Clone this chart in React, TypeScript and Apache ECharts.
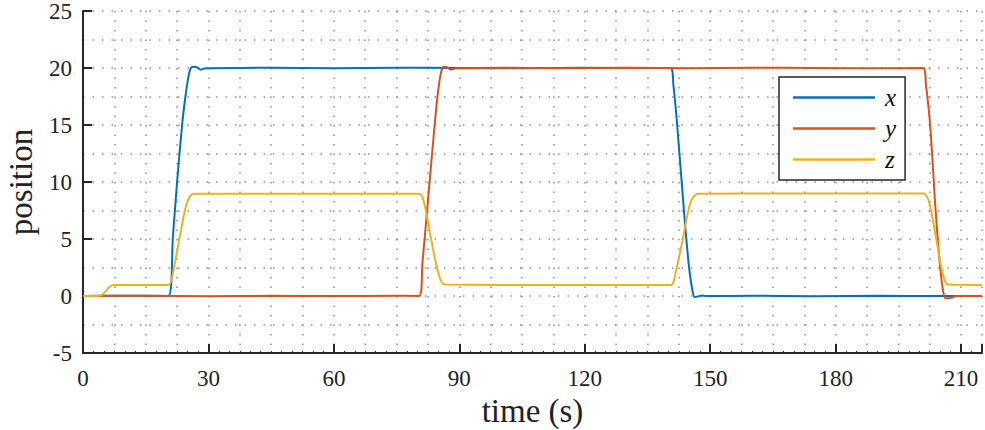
import React, { useEffect, useRef } from "react";
import * as echarts from "echarts";

const xTicks = [0, 30, 60, 90, 120, 150, 180, 210];
const yTicks = [-5, 0, 5, 10, 15, 20, 25];

const xTime = [0, 10, 20.4, 21.5, 22.5, 23.7, 24.5, 25.2, 25.8, 26.5, 27.3, 28.2, 29, 30, 45, 60, 75, 90, 105, 120, 135, 140.5, 141.2, 142.1, 143.7, 144.8, 145.6, 146.3, 147, 148, 149, 160, 175, 190, 205, 215];
const xPos = [0, 0.02, 0, 5.2, 10, 15, 17.5, 19.2, 20.0, 20.1, 20.05, 19.85, 19.95, 19.98, 20.02, 19.98, 20.02, 20.0, 19.98, 20.02, 20.0, 20.0, 18.5, 15, 7.55, 3, 0.8, -0.1, -0.05, 0.05, 0, 0.02, -0.02, 0.02, 0, 0.01];

const yTime = [0, 15, 30, 45, 60, 75, 80.4, 81.2, 82.3, 84.1, 85.0, 86.0, 86.8, 88, 89, 100, 115, 130, 145, 160, 175, 190, 200.9, 201.6, 202.6, 203.9, 205.0, 206.1, 207, 208, 209, 215];
const yPos = [0, 0.02, -0.03, 0.02, 0, 0.02, 0, 3, 7.55, 15, 18.2, 20.05, 20.1, 19.85, 19.95, 20.02, 19.98, 20.02, 19.98, 20.02, 20.0, 19.98, 20.0, 18.5, 15, 7.55, 2.5, -0.15, -0.2, -0.1, 0, 0];

const zTime = [0, 4.1, 5.5, 6.5, 7.6, 20.4, 21.5, 23.0, 24.4, 25.5, 26.8, 50, 80.4, 81.5, 83.3, 85.0, 86.5, 110, 140.5, 141.8, 143.4, 145.3, 147.1, 170, 200.9, 202.3, 204.1, 205.6, 206.9, 215];
const zPos = [0, 0.02, 0.45, 0.85, 0.97, 0.97, 2.0, 4.9, 7.55, 8.7, 8.96, 8.98, 8.98, 8.3, 4.9, 2.0, 1.0, 0.97, 0.97, 2.2, 4.9, 8.2, 8.98, 9.0, 9.0, 8.3, 4.9, 2.0, 1.0, 0.97];

const zip = (t: number[], v: number[]) => t.map((ti, i) => [ti, v[i]]);

const FONT = "Liberation Serif";
const AXIS_COLOR = "#262626";
const GRID_STYLE = { color: "#8c8c8c", width: 1.5, type: [1.5, 8] as number[] };

export default function App() {
  const ref = useRef<HTMLDivElement>(null);
  useEffect(() => {
    if (!ref.current) return;
    const chart = echarts.init(ref.current, undefined, { renderer: "svg" });
    chart.setOption({
      animation: false,
      backgroundColor: "#ffffff",
      textStyle: { fontFamily: FONT },
      grid: { left: 83, right: 3, top: 11, bottom: 77, containLabel: false, outerBoundsMode: "none" },
      legend: {
        orient: "vertical",
        left: 779,
        top: 77,
        padding: [8, 9, 8, 14],
        itemWidth: 82,
        itemHeight: 2.5,
        itemGap: 6,
        icon: "rect",
        backgroundColor: "#ffffff",
        borderColor: "#262626",
        borderWidth: 1.5,
        borderRadius: 0,
        textStyle: {
          fontFamily: FONT,
          fontStyle: "italic",
          fontSize: 25,
          lineHeight: 24,
          height: 24,
          color: "#111",
          padding: [0, 0, 0, 5],
        },
        data: ["x", "y", "z"],
      },
      xAxis: [
        {
          type: "value",
          min: 0,
          max: 215,
          interval: 30,
          name: "time (s)",
          nameLocation: "middle",
          nameGap: 37,
          nameTextStyle: { fontFamily: FONT, fontSize: 33, color: "#222" },
          axisLine: { show: true, onZero: false, lineStyle: { color: AXIS_COLOR, width: 2 } },
          axisTick: { show: true, inside: true, length: 9, lineStyle: { color: AXIS_COLOR, width: 2 } },
          minorTick: { show: true, splitNumber: 12, length: 2, lineStyle: { color: AXIS_COLOR, width: 1 } },
          axisLabel: {
            fontFamily: FONT,
            fontSize: 23,
            color: "#222",
            margin: 14,
            showMaxLabel: false,
            formatter: (v: number) => (xTicks.includes(v) ? String(v) : ""),
          },
          splitLine: { show: false },
        },
        {
          type: "value",
          min: 0,
          max: 215,
          interval: 7.5,
          position: "bottom",
          axisLine: { show: false },
          axisTick: { show: false },
          axisLabel: { show: false },
          splitLine: { show: true, lineStyle: GRID_STYLE },
        },
      ],
      yAxis: [
        {
          type: "value",
          min: -5,
          max: 25,
          interval: 5,
          name: "position",
          nameLocation: "middle",
          nameGap: 46,
          nameTextStyle: { fontFamily: FONT, fontSize: 33, color: "#222" },
          axisLine: { show: true, onZero: false, lineStyle: { color: AXIS_COLOR, width: 2 } },
          axisTick: { show: true, inside: true, length: 9, lineStyle: { color: AXIS_COLOR, width: 2 } },
          axisLabel: {
            fontFamily: FONT,
            fontSize: 23,
            color: "#222",
            margin: 11,
            formatter: (v: number) => (yTicks.includes(v) ? String(v) : ""),
          },
          splitLine: { show: false },
        },
        {
          type: "value",
          min: -5,
          max: 25,
          interval: 2.5,
          position: "left",
          axisLine: { show: false },
          axisTick: { show: false },
          axisLabel: { show: false },
          splitLine: { show: true, lineStyle: GRID_STYLE },
        },
      ],
      series: [
        {
          name: "x",
          type: "line",
          xAxisIndex: 0,
          yAxisIndex: 0,
          data: zip(xTime, xPos),
          showSymbol: false,
          symbol: "none",
          smooth: 0.3,
          z: 5,
          lineStyle: { color: "#0072BD", width: 2 },
          itemStyle: { color: "#0072BD" },
        },
        {
          name: "y",
          type: "line",
          xAxisIndex: 0,
          yAxisIndex: 0,
          data: zip(yTime, yPos),
          showSymbol: false,
          symbol: "none",
          smooth: 0.3,
          z: 5,
          lineStyle: { color: "#D95319", width: 2 },
          itemStyle: { color: "#D95319" },
        },
        {
          name: "z",
          type: "line",
          xAxisIndex: 0,
          yAxisIndex: 0,
          data: zip(zTime, zPos),
          showSymbol: false,
          symbol: "none",
          smooth: 0.3,
          z: 5,
          lineStyle: { color: "#EDB120", width: 2 },
          itemStyle: { color: "#EDB120" },
        },
      ],
    });
    return () => chart.dispose();
  }, []);
  return <div ref={ref} style={{ position: "fixed", left: 0, top: 0, width: 985, height: 430 }} />;
}
